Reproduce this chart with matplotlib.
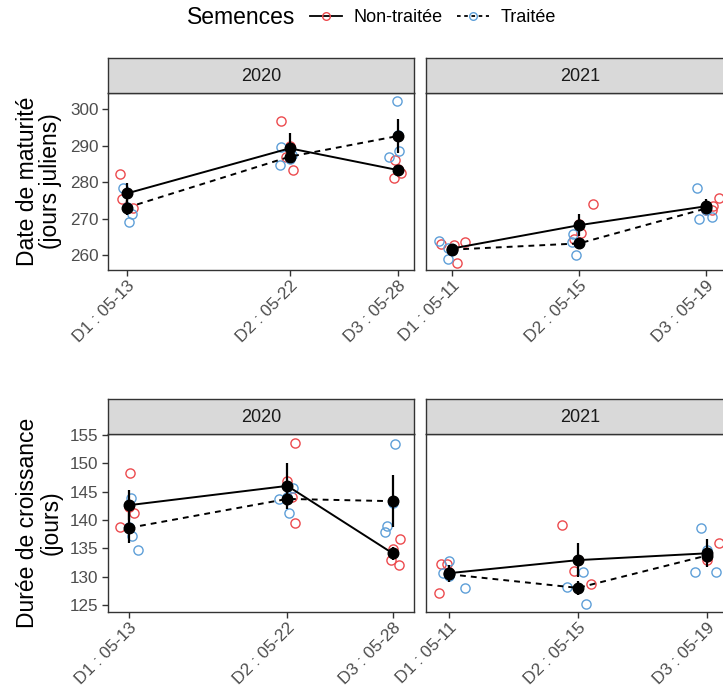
import numpy as np
import matplotlib
matplotlib.use("Agg")
import matplotlib.pyplot as plt
import matplotlib.dates as mdates
from matplotlib.lines import Line2D

plt.rcParams['font.family'] = ['Liberation Sans', 'DejaVu Sans']

# ---------------- data ----------------
groups = ['Non-traitée', 'Traitée']
years = ['2020', '2021']
dates_2020 = ['2020-05-13', '2020-05-22', '2020-05-28']
dates_2021 = ['2021-05-11', '2021-05-15', '2021-05-19']
tick_labels_2020 = ['D1 : 05-13', 'D2 : 05-22', 'D3 : 05-28']
tick_labels_2021 = ['D1 : 05-11', 'D2 : 05-15', 'D3 : 05-19']

# Date de maturité - replicate values (rows = dates) and jitter (days)
mat_2020_nt = [[282.2, 275.4, 273.0, 277.0], [296.9, 287.0, 283.3, 290.0], [286.0, 282.6, 281.1, 283.5]]
mat_2020_nt_jit = [[-0.37, -0.28, 0.36, 0.0], [-0.46, -0.18, 0.17, 0.0], [-0.18, 0.15, -0.25, 0.0]]
mat_2020_t = [[278.5, 271.2, 269.1, 273.2], [289.6, 287.4, 284.7, 286.3], [302.3, 288.6, 286.9, 293.0]]
mat_2020_t_jit = [[-0.22, 0.28, 0.13, 0.0], [-0.46, 0.13, -0.51, 0.0], [-0.07, 0.04, -0.50, 0.0]]
mat_2021_nt = [[263.0, 263.5, 257.9, 262.8], [273.9, 266.1, 264.3, 268.5], [275.6, 273.4, 272.3, 272.3]]
mat_2021_nt_jit = [[-0.37, 0.40, 0.14, 0.05], [0.44, 0.05, -0.17, 0.0], [0.41, 0.23, 0.18, 0.0]]
mat_2021_t = [[263.9, 262.0, 258.8, 261.3], [265.9, 263.6, 260.1, 263.2], [278.4, 269.9, 270.4, 272.5]]
mat_2021_t_jit = [[-0.41, -0.13, -0.13, 0.0], [-0.19, -0.22, -0.11, 0.0], [-0.29, -0.21, 0.19, 0.0]]

mat_2020_nt_mean = [276.9, 289.3, 283.3]
mat_2020_nt_se = [2.8, 4.1, 1.0]
mat_2020_t_mean = [273.0, 287.0, 292.7]
mat_2020_t_se = [2.0, 1.3, 4.6]
mat_2021_nt_mean = [261.8, 268.2, 273.4]
mat_2021_nt_se = [0.6, 3.0, 2.0]
mat_2021_t_mean = [261.5, 263.2, 272.8]
mat_2021_t_se = [0.6, 1.0, 1.5]

# Durée de croissance
gro_2020_nt = [[148.2, 141.2, 138.8, 142.2], [153.6, 144.0, 139.5, 146.9], [136.6, 133.0, 132.0, 134.8]]
gro_2020_nt_jit = [[0.04, 0.27, -0.53, 0.0], [0.44, 0.25, 0.44, 0.0], [0.42, -0.11, 0.38, 0.0]]
gro_2020_t = [[143.9, 137.2, 134.6, 138.7], [145.7, 143.7, 141.3, 144.1], [153.4, 139.0, 137.9, 142.9]]
gro_2020_t_jit = [[0.08, 0.17, 0.48, 0.0], [0.30, -0.47, 0.10, 0.0], [0.13, -0.34, -0.44, 0.0]]
gro_2021_nt = [[132.2, 132.3, 127.1, 130.8], [139.1, 130.9, 128.7, 132.9], [135.9, 132.9, 133.5, 134.1]]
gro_2021_nt_jit = [[-0.24, -0.06, -0.31, 0.0], [-0.48, -0.13, 0.42, 0.0], [0.38, 0.0, 0.0, 0.0]]
gro_2021_t = [[132.8, 130.7, 128.0, 130.1], [130.8, 128.1, 125.2, 127.9], [138.6, 130.8, 130.8, 134.6]]
gro_2021_t_jit = [[0.0, -0.19, 0.49, 0.0], [0.16, -0.34, 0.24, 0.0], [-0.18, -0.36, 0.29, 0.0]]

gro_2020_nt_mean = [142.6, 146.0, 134.1]
gro_2020_nt_se = [2.7, 4.1, 1.2]
gro_2020_t_mean = [138.6, 143.7, 143.3]
gro_2020_t_se = [2.7, 1.2, 4.6]
gro_2021_nt_mean = [130.6, 132.9, 134.1]
gro_2021_nt_se = [1.5, 3.0, 2.5]
gro_2021_t_mean = [130.4, 128.0, 133.7]
gro_2021_t_se = [0.8, 1.3, 1.0]

ylabel_mat = 'Date de maturité\n(jours juliens)'
ylabel_gro = 'Durée de croissance\n(jours)'
yticks_mat = [260, 270, 280, 290, 300]
yticks_gro = [125, 130, 135, 140, 145, 150, 155]

# ---------------- style ----------------
RED = '#EC4A4E'
BLUE = '#5E9FD8'
DARK = '#333333'
TICKC = '#4D4D4D'
TICK_FS = 12.3

W, H = 723, 689
fig = plt.figure(figsize=(W / 100, H / 100), dpi=100)


def px_axes(x0, y0, x1, y1):
    return fig.add_axes([x0 / W, 1 - y1 / H, (x1 - x0) / W, (y1 - y0) / H])


def strip(x0, y0, x1, y1, text):
    s = px_axes(x0, y0, x1, y1)
    s.set_facecolor('#D9D9D9')
    s.set_xticks([])
    s.set_yticks([])
    for sp in s.spines.values():
        sp.set_color(DARK)
        sp.set_linewidth(1.0)
    s.text(0.5, 0.47, text, ha='center', va='center', fontsize=13, color='#1A1A1A',
           transform=s.transAxes)


def panel(box, strip_box, year, dates, labels, reps, means, ses, xlim, ylim, yticks, ylabel, ylabel_y):
    ax = px_axes(*box)
    strip(*strip_box, year)
    xd = mdates.date2num(np.array(dates, dtype='datetime64[D]'))
    (nt_vals, nt_jit), (t_vals, t_jit) = reps
    for vals, jit, col in [(nt_vals, nt_jit, RED), (t_vals, t_jit, BLUE)]:
        v = np.asarray(vals)
        j = np.asarray(jit)
        xx = (xd[:, None] + j).ravel()
        ax.plot(xx, v.ravel(), ls='none', marker='o', ms=6.6, mfc='none', mec=col, mew=1.0, zorder=2)
    nt_m, t_m = means
    nt_s, t_s = ses
    ax.plot(xd, nt_m, color='black', lw=1.4, ls='-', zorder=3)
    ax.plot(xd, t_m, color='black', lw=1.4, ls=(0, (3, 2.6)), zorder=3)
    for m, s in [(nt_m, nt_s), (t_m, t_s)]:
        m = np.asarray(m)
        s = np.asarray(s)
        ax.vlines(xd, m - s, m + s, color='black', lw=1.6, zorder=4)
        ax.plot(xd, m, ls='none', marker='o', ms=7.6, color='black', zorder=5)
    ax.set_xlim(xd[0] + xlim[0], xd[0] + xlim[1])
    ax.set_ylim(*ylim)
    ax.set_xticks(xd)
    ax.set_xticklabels(labels, rotation=45, ha='right', va='top', rotation_mode='anchor')
    ax.set_yticks(yticks)
    ax.tick_params(axis='both', length=4.0, width=1.0, color=DARK, labelcolor=TICKC,
                   labelsize=TICK_FS, pad=2.5)
    ax.tick_params(axis='x', pad=2.0)
    for sp in ax.spines.values():
        sp.set_color(DARK)
        sp.set_linewidth(1.0)
    if ylabel:
        fig.text(39 / W, 1 - ylabel_y / H, ylabel, rotation=90, ha='center', va='center',
                 fontsize=16.5, color='black', linespacing=1.05, multialignment='center')
    else:
        ax.set_yticklabels([])
        ax.tick_params(axis='y', length=0)
    return ax


# panel geometry (pixels)
LX0, LX1 = 107.7, 414.3
RX0, RX1 = 426.0, 734.0
TY0, TY1 = 92.7, 270.0
BY0, BY1 = 434.3, 611.7
TS0 = 58.3
BS0 = 399.3

ylim_mat = (255.9, 304.56)
ylim_gro = (123.8, 155.1)

panel((LX0, TY0, LX1, TY1), (LX0, TS0, LX1, TY0), years[0], dates_2020, tick_labels_2020,
      ((mat_2020_nt, mat_2020_nt_jit), (mat_2020_t, mat_2020_t_jit)),
      (mat_2020_nt_mean, mat_2020_t_mean), (mat_2020_nt_se, mat_2020_t_se),
      (-1.05, 15.88), ylim_mat, yticks_mat, ylabel_mat, (TY0 + TY1) / 2)
panel((RX0, TY0, RX1, TY1), (RX0, TS0, RX1, TY0), years[1], dates_2021, tick_labels_2021,
      ((mat_2021_nt, mat_2021_nt_jit), (mat_2021_t, mat_2021_t_jit)),
      (mat_2021_nt_mean, mat_2021_t_mean), (mat_2021_nt_se, mat_2021_t_se),
      (-0.83, 8.88), ylim_mat, yticks_mat, None, None)
panel((LX0, BY0, LX1, BY1), (LX0, BS0, LX1, BY0), years[0], dates_2020, tick_labels_2020,
      ((gro_2020_nt, gro_2020_nt_jit), (gro_2020_t, gro_2020_t_jit)),
      (gro_2020_nt_mean, gro_2020_t_mean), (gro_2020_nt_se, gro_2020_t_se),
      (-1.23, 16.23), ylim_gro, yticks_gro, ylabel_gro, (BY0 + BY1) / 2)
panel((RX0, BY0, RX1, BY1), (RX0, BS0, RX1, BY0), years[1], dates_2021, tick_labels_2021,
      ((gro_2021_nt, gro_2021_nt_jit), (gro_2021_t, gro_2021_t_jit)),
      (gro_2021_nt_mean, gro_2021_t_mean), (gro_2021_nt_se, gro_2021_t_se),
      (-0.72, 8.85), ylim_gro, yticks_gro, None, None)

# legend
fig.text(187 / W, 1 - 18 / H, 'Semences', fontsize=16.5, ha='left', va='center')
handles = [Line2D([], [], color='black', lw=1.3, ls='-', marker='o', ms=5.5, mfc='none', mec=RED, mew=1.0),
           Line2D([], [], color='black', lw=1.3, ls=(0, (2, 2)), marker='o', ms=5.5, mfc='none', mec=BLUE, mew=1.0)]
fig.legend(handles, groups, loc='center left', bbox_to_anchor=(310 / W, 1 - 18 / H), ncol=2,
           frameon=False, fontsize=13, handlelength=1.75, handletextpad=0.65, columnspacing=0.8,
           borderpad=0, borderaxespad=0)

fig.savefig('out.png', dpi=100)
